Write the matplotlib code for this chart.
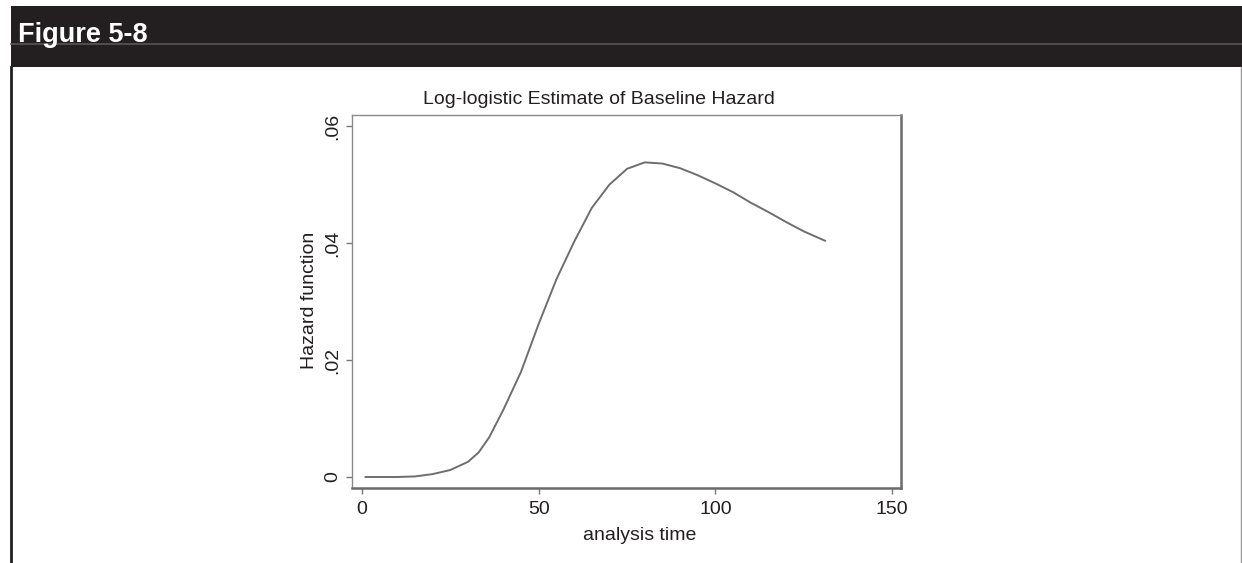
import matplotlib
matplotlib.use("Agg")
import matplotlib.pyplot as plt
from matplotlib.patches import Rectangle
from matplotlib.lines import Line2D

plt.rcParams['font.family'] = ['Liberation Sans', 'DejaVu Sans']

# values
time = [1, 5, 10, 15, 20, 25, 30, 33, 36, 40, 45, 50, 55, 60, 65, 70, 75,
        80, 85, 90, 95, 100, 105, 110, 115, 120, 125, 131]
hazard = [0.0, 0.0, 0.0, 0.0001, 0.0005, 0.0012, 0.0026, 0.0042, 0.0068,
          0.0115, 0.0180, 0.0262, 0.0338, 0.0402, 0.0460, 0.0500, 0.0527,
          0.0538, 0.0536, 0.0528, 0.0516, 0.0502, 0.0487, 0.0469, 0.0453,
          0.0436, 0.0420, 0.0404]

xticks = [0, 50, 100, 150]
xtick_labels = ['0', '50', '100', '150']
yticks = [0, 0.02, 0.04, 0.06]
ytick_labels = ['0', '.02', '.04', '.06']

W, H = 1242, 563
fig = plt.figure(figsize=(W / 100, H / 100), dpi=100)

def fx(px):
    return px / W

def fy(py):
    return 1 - py / H

# header bar
fig.patches.append(Rectangle((fx(11), fy(67)), fx(W - 11), (67 - 6) / H,
                             transform=fig.transFigure, facecolor='#231f20',
                             edgecolor='none', zorder=0))
fig.lines.append(Line2D([fx(11), 1], [fy(44), fy(44)], transform=fig.transFigure,
                        color='#5a5657', lw=1.2, zorder=1))
fig.lines.append(Line2D([fx(11), fx(11)], [0, fy(67)], transform=fig.transFigure,
                        color='#231f20', lw=2.0, zorder=1))
fig.lines.append(Line2D([fx(1241), fx(1241)], [0, fy(67)], transform=fig.transFigure,
                        color='#9a9a9a', lw=1.0, zorder=1))
fig.text(fx(18), fy(35), 'Figure 5-8', color='white', fontsize=19.5,
         fontweight='bold', va='center', ha='left')

# plot area
ax = fig.add_axes([fx(352), fy(488), fx(901 - 352), (488 - 115) / H])
ax.plot(time, hazard, color='#6e6e6e', lw=1.4)
ax.set_xlim(-2.83, 152.5)
ax.set_ylim(-0.00188, 0.0619)

ax.set_xticks(xticks)
ax.set_xticklabels(xtick_labels)
ax.set_yticks(yticks)
ax.set_yticklabels(ytick_labels, rotation=90, va='center')
ax.tick_params(axis='both', direction='out', length=4, width=1.0,
               color='#777777', labelsize=14, labelcolor='#231f20')
ax.tick_params(axis='x', pad=5)
ax.tick_params(axis='y', pad=4)
for side in ['top', 'left']:
    ax.spines[side].set_color('#8a8a8a')
    ax.spines[side].set_linewidth(1.0)
for side in ['right', 'bottom']:
    ax.spines[side].set_color('#6a6a6a')
    ax.spines[side].set_linewidth(1.8)

fig.text(fx(599), fy(100), 'Log-logistic Estimate of Baseline Hazard',
         fontsize=14, color='#231f20', ha='center', va='center')
fig.text(fx(640), fy(535), 'analysis time', fontsize=14, color='#231f20',
         ha='center', va='center')
fig.text(fx(309), fy(300), 'Hazard function', fontsize=14, color='#231f20',
         ha='center', va='center', rotation=90)

fig.savefig('out.png', dpi=100, facecolor='white')
